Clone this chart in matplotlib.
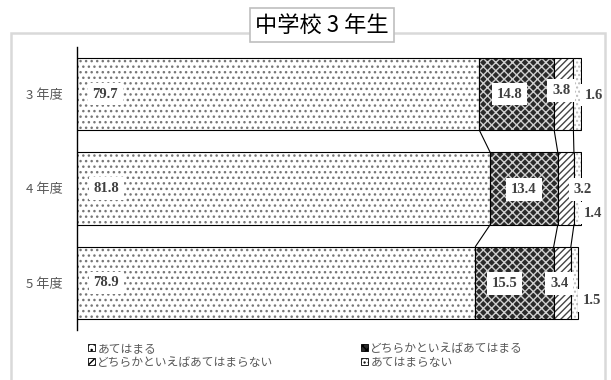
import matplotlib.pyplot as plt
from matplotlib.patches import Rectangle, Patch

plt.rcParams['font.family'] = ['Noto Sans CJK JP', 'DejaVu Sans']
plt.rcParams['hatch.linewidth'] = 1.0

years = ['3 年度', '4 年度', '5 年度']
series = ['あてはまる', 'どちらかといえばあてはまる',
          'どちらかといえばあてはまらない', 'あてはまらない']
atehamaru = [79.7, 81.8, 78.9]
dochiraka_ate = [14.8, 13.4, 15.5]
dochiraka_ategai = [3.8, 3.2, 3.4]
atehamaranai = [1.6, 1.4, 1.5]

# label placement (x in data units, y offset in bar units) - hand tuned
label_dx = [[5.6, -1.5, 1.4, 4.1], [5.8, 0, 5.0, 3.7], [5.8, -2, 1.1, 4.2]]
label_dy = [[0, 0, -0.04, 0.01], [0, 0.01, 0.01, 0.26], [0, 0.01, 0.01, 0.19]]

# pattern style per series: face, hatch, hatch colour
styles = [('white', '...', '#777777'),
          ('#2a2a2a', 'xxxx', '#d0d0d0'),
          ('white', '/////', '#444444'),
          ('white', '....', '#bbbbbb')]

fig = plt.figure(figsize=(6.11, 3.80), dpi=100)

# outer chart frame
fig.patches.append(Rectangle((11 / 611, -0.05), 594 / 611, 1.05 - 33 / 380,
                             transform=fig.transFigure, fill=False,
                             edgecolor='#d9d9d9', linewidth=1.8))

ax = fig.add_axes([77 / 611, 50 / 380, 505 / 611, 283 / 380])
h = 0.77
data = [atehamaru, dochiraka_ate, dochiraka_ategai, atehamaranai]
ypos = list(range(len(years)))

lefts = [0.0] * len(years)
cum = []
for k, vals in enumerate(data):
    face, hatch, hcol = styles[k]
    ax.barh(ypos, vals, left=lefts, height=h, color=face, edgecolor=hcol,
            hatch=hatch, linewidth=0)
    ax.barh(ypos, vals, left=lefts, height=h, fill=False, edgecolor='black',
            linewidth=0.8)
    lefts = [l + v for l, v in zip(lefts, vals)]
    cum.append(list(lefts))

# series lines between bars
for k in range(3):
    for i in range(len(years) - 1):
        ax.plot([cum[k][i], cum[k][i + 1]], [i + h / 2, i + 1 - h / 2],
                color='black', linewidth=0.8)

# data labels
for i in range(len(years)):
    starts = [0, cum[0][i], cum[1][i], cum[2][i]]
    for k, vals in enumerate(data):
        if k == 0:
            x = label_dx[i][k]
        elif k == 1:
            x = starts[k] + vals[i] / 2 + label_dx[i][k]
        else:
            x = starts[k] + label_dx[i][k]
        ax.text(x, i + label_dy[i][k], f'{vals[i]:.1f}', ha='center',
                va='center', family='Liberation Serif', fontsize=10.5,
                fontweight='bold', color='#404040',
                bbox=dict(facecolor='white', edgecolor='none', pad=3.5))

ax.set_xlim(0, 100)
ax.set_ylim(2.5, -0.5)
ax.set_yticks(ypos)
ax.set_yticklabels(years, fontsize=9.5, color='#595959')
ax.tick_params(axis='y', length=0, pad=10)
ax.set_xticks([])
for s in ['top', 'right', 'bottom']:
    ax.spines[s].set_visible(False)
ax.spines['left'].set_linewidth(1.0)

# legend
handles = [Patch(facecolor=styles[k][0], edgecolor='black', hatch=styles[k][1],
                 linewidth=0.6) for k in range(4)]
order = [0, 2, 1, 3]
fig.legend([handles[k] for k in order], [series[k] for k in order],
           ncol=2, loc='upper left', bbox_to_anchor=(82 / 611, 1 - 336 / 380),
           frameon=False, fontsize=8.5, labelcolor='#595959',
           handlelength=0.6, handleheight=0.6, handletextpad=0.2,
           columnspacing=7.4, labelspacing=0.05, borderpad=0)

# title box
fig.text(322 / 611, 1 - 25 / 380, '中学校 3 年生', ha='center', va='center',
         fontsize=16, color='black',
         bbox=dict(facecolor='white', edgecolor='#bfbfbf', linewidth=1.2,
                   boxstyle='square,pad=0.25'))

fig.savefig('out.png', dpi=100)
